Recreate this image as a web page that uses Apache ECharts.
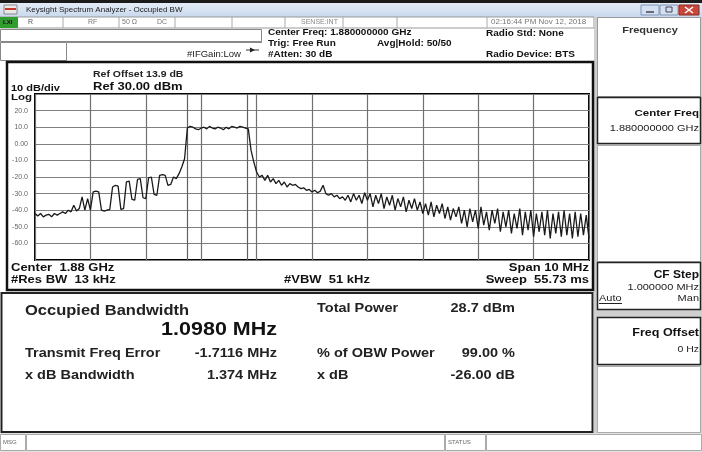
<!DOCTYPE html>
<html><head><meta charset="utf-8">
<script src="https://cdn.jsdelivr.net/npm/echarts@6/dist/echarts.min.js"></script>
<style>html,body{margin:0;padding:0;background:#fff}#c{width:702px;height:452px}</style>
</head><body><div id="c"></div>
<script>
// ---- data ----
const freqStartMHz = 1875;
const freqStopMHz = 1885;
const freqStepMHz = 0.05;
const traceDbm = [
-42,-43.5,-42,-44,-43,-42.5,-44,-42,-43,-42,
-41,-42,-40,-41,-37,-40.5,-39,-32,-40,-33,
-40,-29,-28.5,-29,-40,-40.5,-40,-39.5,-26,-25,
-25.5,-39.5,-39,-23,-22.5,-33.5,-34,-21.5,-21,-32.5,
-33,-20.5,-20,-30.5,-31,-19,-18.5,-19,-25,-24.5,
-20,-21,-18,-14,-9,
9.5,10.5,10,9,8.5,9.5,10,9,10.5,9.5,9,10,9.5,8.5,10,9,10.5,10,9.5,10.5,10,9.5,9,
-4,-11,-17,-20,-19,-22,-19,-23,-21,-24,
-22,-25,-23,-26,-24,-25,-24.5,-26,-27,-26.5,
-28,-27.5,-29,-28,-29.5,-28.5,-25,-30,-31,-30,
-32,-31,-33,-32,-34,-31,-35,-30,-34,-31,
-36,-29.5,-34,-30,-38,-31,-36,-30,-39,-32,
-37,-31,-40,-33,-38,-32,-41,-34,-39,-33,
-40,-35,-42,-36,-43,-35,-44,-37,-42,-36,
-45,-38,-46,-39,-44,-38,-48,-40,-50,-39,
-47,-40,-51,-38,-49,-41,-52,-40,-48,-39,
-53,-41,-50,-40,-54,-42,-51,-39,-55,-41,
-52,-40,-56,-42,-53,-41,-55,-40,-57,-42,
-54,-41,-56,-40,-55,-42,-57,-41,-56,-42,
-55,-43,-57
];
const obwEdgesMHz = [1877.7394, 1878.8374];
const yTicks = [-60,-50,-40,-30,-20,-10,0,10,20];
const yTickLabels = ['-60.0','-50.0','-40.0','-30.0','-20.0','-10.0','0.00','10.0','20.0'];

// ---- helpers ----
const F = '"Liberation Sans", Arial, sans-serif';
const SY = 0.86; // screenshot is squeezed more vertically than horizontally
const G = [];
function rect(x,y,w,h,fill,stroke,lw,z){G.push({type:'rect',z:z||0,silent:true,shape:{x,y,width:w,height:h},style:{fill:fill||'none',stroke:stroke||null,lineWidth:lw||1}});}
function line(x1,y1,x2,y2,c,lw,z){G.push({type:'line',z:z||1,silent:true,shape:{x1,y1,x2,y2},style:{stroke:c,lineWidth:lw||1}});}
function txt(x,y,s,size,opt){opt=opt||{};G.push({type:'text',z:10,silent:true,x,y,scaleY:opt.noScale?1:SY,style:{text:s,font:(opt.bold?'bold ':'')+size+'px '+F,fill:opt.fill||'#111',align:opt.align||'left',verticalAlign:'middle'}});}

// title bar
rect(0,0,702,3,'#1b1b1b');
G.push({type:'rect',z:0,silent:true,shape:{x:0,y:3,width:702,height:14},style:{fill:new echarts.graphic.LinearGradient(0,0,0,1,[{offset:0,color:'#e4ecf7'},{offset:1,color:'#c9d8ec'}])}});
rect(4,5,13,9,'#e8e8e8','#888',1,1); rect(5,8,11,2,'#c0392b',null,1,2);
txt(26,10,'Keysight Spectrum Analyzer - Occupied BW',8,{fill:'#1a1a1a',noScale:true});
rect(641,5,18,10,'#d3e0f0','#7f93b5',1,1); line(646,12,654,12,'#445',1.5,2);
rect(660,5,18,10,'#d3e0f0','#7f93b5',1,1); rect(666,7,6,5,'none','#445',1,2);
rect(679,5,20,10,'#c9473a','#8a2a20',1,1); line(685,7,693,13,'#fff',1.5,2); line(693,7,685,13,'#fff',1.5,2);

// status row
rect(0,17,594,11,'#fff','#999',1,0);
rect(0,17,18,11,'#2f9e2f',null,1,1); txt(3,22.5,'LXI',6,{bold:true,fill:'#111',noScale:true});
[63,119,175,232,285,343,397,487].forEach(x=>line(x,17,x,28,'#aaa',1,1));
txt(28,22.5,'R',7,{fill:'#555',noScale:true}); txt(88,22.5,'RF',7,{fill:'#777',noScale:true}); txt(122,22.5,'50 Ω',7,{fill:'#777',noScale:true}); txt(157,22.5,'DC',7,{fill:'#777',noScale:true});
txt(301,22.5,'SENSE:INT',7,{fill:'#888',noScale:true}); txt(491,22.5,'02:16:44 PM Nov 12, 2018',8,{fill:'#777'});

// info rows
rect(0.5,29.5,261,12,'#fff','#888',1,1);
rect(0.5,42.5,66,18,'#fff','#888',1,1);
line(67,42.5,262,42.5,'#888',1,1);
txt(187,55,'#IFGain:Low',9.5,{fill:'#222'});
line(246,50,259,50,'#333',1,2); G.push({type:'polygon',z:2,silent:true,shape:{points:[[250,47.5],[255,50],[250,52.5]]},style:{fill:'#222'}});
txt(268,33,'Center Freq: 1.880000000 GHz',10,{bold:true});
txt(268,44,'Trig: Free Run',10,{bold:true});
txt(377,44,'Avg|Hold: 50/50',10,{bold:true});
txt(268,55,'#Atten: 30 dB',10,{bold:true});
txt(486,34,'Radio Std: None',10,{bold:true});
txt(486,55,'Radio Device: BTS',10,{bold:true});

// chart panel frame
rect(7,62,586,228,'#fff','#111',2.5,1);
txt(93,75,'Ref Offset 13.9 dB',10.5,{bold:true,fill:'#222'});
txt(93,86.5,'Ref 30.00 dBm',13,{bold:true});
txt(11,88,'10 dB/div',11,{bold:true});
txt(11,97,'Log',11.5,{bold:true});
txt(11,268,'Center  1.88 GHz',13,{bold:true});
txt(11,280,'#Res BW  13 kHz',13,{bold:true});
txt(284,280,'#VBW  51 kHz',13,{bold:true});
txt(589,268,'Span 10 MHz',13,{bold:true,align:'right'});
txt(589,280,'Sweep  55.73 ms',13,{bold:true,align:'right'});

// results panel
rect(1.5,293,591,139,'#fff','#222',2,1);
txt(25,311,'Occupied Bandwidth',16.5,{bold:true,fill:'#222'});
txt(277,330,'1.0980 MHz',21.5,{bold:true,align:'right'});
txt(25,354,'Transmit Freq Error',14.5,{bold:true,fill:'#222'});
txt(277,354,'-1.7116 MHz',14.5,{bold:true,align:'right',fill:'#222'});
txt(25,376,'x dB Bandwidth',14.5,{bold:true,fill:'#222'});
txt(277,376,'1.374 MHz',14.5,{bold:true,align:'right',fill:'#222'});
txt(317,309,'Total Power',14.5,{bold:true,fill:'#222'});
txt(515,309,'28.7 dBm',14.5,{bold:true,align:'right',fill:'#222'});
txt(317,354,'% of OBW Power',14.5,{bold:true,fill:'#222'});
txt(515,354,'99.00 %',14.5,{bold:true,align:'right',fill:'#222'});
txt(317,376,'x dB',14.5,{bold:true,fill:'#222'});
txt(515,376,'-26.00 dB',14.5,{bold:true,align:'right',fill:'#222'});

// right softkey panel
rect(594,17,108,417,'#cfcfcf',null,1,0);
rect(597.5,17.5,103,79,'#fff','#999',1,1);
txt(650,30,'Frequency',11,{bold:true,fill:'#333',align:'center'});
rect(597.5,97.5,103,46,'#fff','#222',1.5,1);
txt(699,113,'Center Freq',11.5,{bold:true,align:'right'});
txt(699,128,'1.880000000 GHz',11,{align:'right',fill:'#222'});
rect(597.5,145.5,103,116,'#fff','#aaa',1,1);
rect(597.5,262.5,103,47,'#fff','#222',1.5,1);
txt(699,275,'CF Step',12,{bold:true,align:'right'});
txt(699,287,'1.000000 MHz',11,{align:'right',fill:'#222'});
txt(599,298,'Auto',11,{fill:'#222'}); line(599,303.5,622,303.5,'#222',1,2);
txt(699,298,'Man',11,{align:'right',fill:'#222'});
rect(597.5,317.5,103,47,'#fff','#222',1.5,1);
txt(699,333,'Freq Offset',12.5,{bold:true,align:'right'});
txt(699,350,'0 Hz',10.5,{align:'right',fill:'#222'});
rect(597.5,366.5,103,66,'#fff','#aaa',1,1);

// status bar
rect(0,433,702,19,'#e2e2e2',null,1,0);
rect(0.5,434.5,25,16,'#fff','#aaa',1,1); txt(3,442,'MSG',6,{fill:'#666',noScale:true});
rect(26.5,434.5,418,16,'#fff','#aaa',1,1);
rect(445.5,434.5,40,16,'#fff','#aaa',1,1); txt(448,442,'STATUS',6,{fill:'#666',noScale:true});
rect(486.5,434.5,215,16,'#fff','#aaa',1,1);

const chart = echarts.init(document.getElementById('c'), null, {renderer:'canvas'});
chart.setOption({
  animation:false,
  backgroundColor:'#fff',
  graphic:{elements:G},
  grid:{left:35,top:94,width:554,height:166,show:true,borderColor:'#000',borderWidth:2,backgroundColor:'transparent',z:5},
  xAxis:{type:'value',min:freqStartMHz,max:freqStopMHz,interval:1,axisLabel:{show:false},axisTick:{show:false},axisLine:{show:false},
    splitLine:{show:true,lineStyle:{color:'#707070',width:1.2}},z:5},
  yAxis:{type:'value',min:-70,max:30,interval:10,axisTick:{show:false},axisLine:{show:false},
    axisLabel:{fontSize:7,color:'#666',fontFamily:F,margin:7,formatter:v=>{const k=yTicks.indexOf(v);return k<0?'':yTickLabels[k];}},
    splitLine:{show:true,lineStyle:{color:'#808080',width:1.2}},z:5},
  series:[{type:'line',z:6,symbol:'none',silent:true,
    data:traceDbm.map((v,i)=>[freqStartMHz+i*freqStepMHz,v]),
    lineStyle:{color:'#1a1a1a',width:1.3},
    markLine:{silent:true,symbol:'none',label:{show:false},lineStyle:{color:'#606060',width:1.2,type:'solid'},
      data:obwEdgesMHz.map(x=>({xAxis:x}))}}]
});
</script></body></html>
